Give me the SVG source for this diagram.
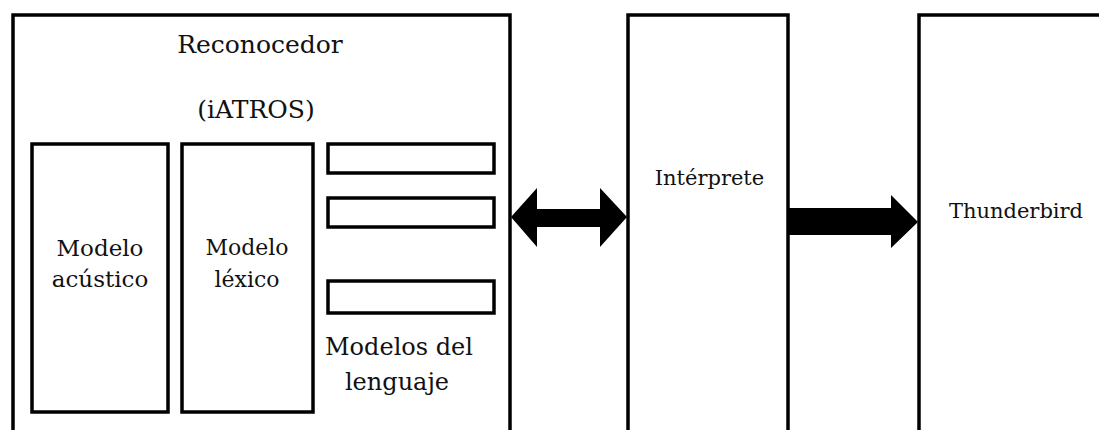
<svg xmlns="http://www.w3.org/2000/svg" width="1099" height="430" viewBox="0 0 1099 430">
<style>
.box{fill:#fff;stroke:#000;stroke-width:3.5}
.t{font-family:"DejaVu Serif","Liberation Serif",serif;fill:#111;text-anchor:middle}
.arr{fill:#000;stroke:none}
</style>
<rect width="1099" height="430" fill="#fff"/>
<g id="reconocedor">
<rect class="box" x="13" y="15" width="497" height="440"/>
<text class="t" x="260" y="53" font-size="25">Reconocedor</text>
<text class="t" x="256" y="118" font-size="25">(iATROS)</text>
</g>
<g id="modelo-acustico">
<rect class="box" x="32" y="144" width="136" height="268"/>
<text class="t" x="100" y="256" font-size="23">Modelo</text>
<text class="t" x="100" y="287" font-size="23">acústico</text>
</g>
<g id="modelo-lexico">
<rect class="box" x="182" y="144" width="131" height="268"/>
<text class="t" x="247" y="255" font-size="22">Modelo</text>
<text class="t" x="247" y="287" font-size="22">léxico</text>
</g>
<g id="modelos-lenguaje">
<rect class="box" x="328" y="144" width="166" height="29"/>
<rect class="box" x="328" y="198" width="166" height="29"/>
<rect class="box" x="328" y="281" width="166" height="32"/>
<text class="t" x="399" y="355" font-size="24">Modelos del</text>
<text class="t" x="397" y="390" font-size="24">lenguaje</text>
</g>
<g id="interprete">
<rect class="box" x="628" y="15" width="160" height="440"/>
<text class="t" x="709.5" y="185" font-size="21">Intérprete</text>
</g>
<g id="thunderbird">
<rect class="box" x="919" y="15" width="200" height="440"/>
<text class="t" x="1016" y="218" font-size="21">Thunderbird</text>
</g>
<g id="connectors">
<polygon class="arr" points="511,217 537,188 537,209 600,209 600,188 627,217 600,247 600,227 537,227 537,247"/>
<polygon class="arr" points="788,208 891,208 891,195 918,222 891,248 891,235 788,235"/>
</g>
</svg>
